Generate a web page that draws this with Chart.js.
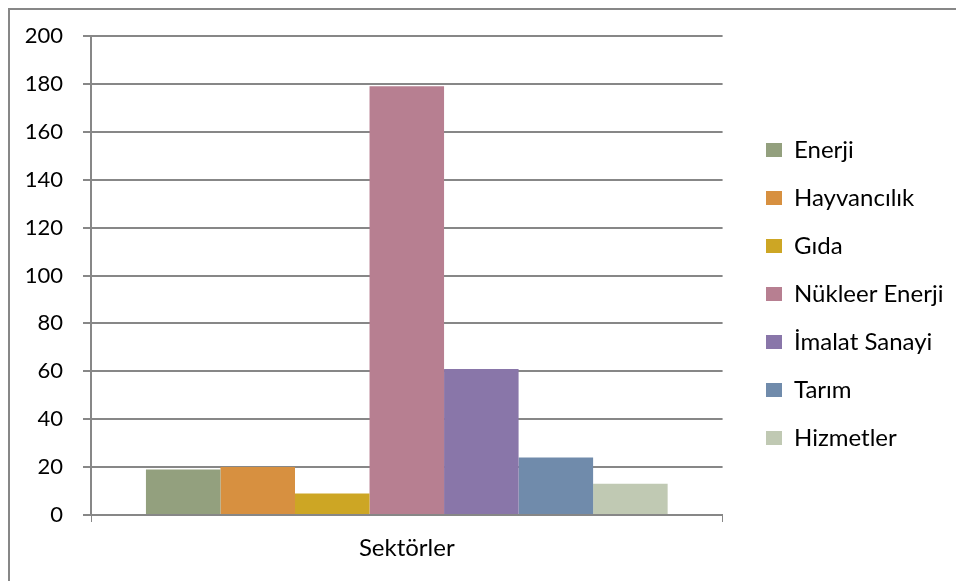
<!DOCTYPE html>
<html>
<head>
<meta charset="utf-8">
<script src="https://cdn.jsdelivr.net/npm/chart.js@4"></script>
<style>
	html, body { margin: 0; padding: 0; background: #fff; overflow: hidden; }
	#wrap { position: relative; width: 956px; height: 581px; }
	#frame { position: absolute; left: 8px; top: 8px; width: 960px; height: 600px; border: 2px solid #878787; box-sizing: border-box; }
	canvas { position: absolute; left: 0; top: 0; }
</style>
</head>
<body>
<div id="wrap">
	<div id="frame"></div>
	<canvas id="chart" width="956" height="581"></canvas>
</div>
<script>
// chart data
var categories = ['Sektörler'];
var seriesNames = ['Enerji', 'Hayvancılık', 'Gıda', 'Nükleer Enerji', 'İmalat Sanayi', 'Tarım', 'Hizmetler'];
var seriesValues = [19, 20, 9, 179, 61, 24, 13];
var seriesColors = ['#93A07E', '#D79040', '#CDA624', '#B77F91', '#8976A9', '#708BAB', '#C0C9B3'];
var yTicks = [0, 20, 40, 60, 80, 100, 120, 140, 160, 180, 200];

var fontFamily = 'Lato, "Open Sans", sans-serif';

// where the legend should sit (first box left edge, vertical centre of the list)
var legendBoxX = 766;
var legendMidY = 294;

var datasets = [];
for (var i = 0; i < seriesNames.length; i++) {
	datasets.push({
		label: seriesNames[i],
		data: [seriesValues[i]],
		backgroundColor: seriesColors[i],
		borderWidth: 0,
		categoryPercentage: 0.826,
		barPercentage: 1
	});
}

// nudge the legend after layout so it stays where the reference has it
var legendShift = {
	id: 'legendShift',
	afterLayout: function(chart) {
		var lg = chart.legend;
		if (!lg) return;
		var pad = lg.options.labels.padding;
		var dx = legendBoxX - (lg.left + pad);
		var dy = legendMidY - (lg.top + lg.bottom) / 2;
		lg.left += dx; lg.right += dx;
		lg.top += dy; lg.bottom += dy;
	}
};

var ctx = document.getElementById('chart').getContext('2d');
var chart = new Chart(ctx, {
	type: 'bar',
	data: {
		labels: categories,
		datasets: datasets
	},
	plugins: [legendShift],
	options: {
		responsive: false,
		animation: false,
		layout: { padding: { top: 36, right: 22, left: 0, bottom: 0 } },
		plugins: {
			tooltip: { enabled: false },
			legend: {
				position: 'right',
				labels: {
					boxWidth: 16,
					boxHeight: 14,
					padding: 24,
					color: '#000',
					font: { family: fontFamily, size: 24 }
				}
			}
		},
		scales: {
			x: {
				grid: { drawOnChartArea: false, drawTicks: true, tickLength: 7, color: '#878787', offset: true },
				border: { color: '#878787', width: 2 },
				ticks: { color: '#000', padding: 12, font: { family: fontFamily, size: 24 } },
				afterFit: function(scale) { scale.height = 66; }
			},
			y: {
				min: 0,
				max: 200,
				afterBuildTicks: function(scale) {
					scale.ticks = yTicks.map(function(v) { return { value: v }; });
				},
				grid: { color: '#878787', lineWidth: 2, tickLength: 8 },
				border: { color: '#878787', width: 2 },
				ticks: { color: '#000', padding: 20, font: { family: fontFamily, size: 22 } },
				afterFit: function(scale) { scale.width = 91; }
			}
		}
	}
});
</script>
</body>
</html>
